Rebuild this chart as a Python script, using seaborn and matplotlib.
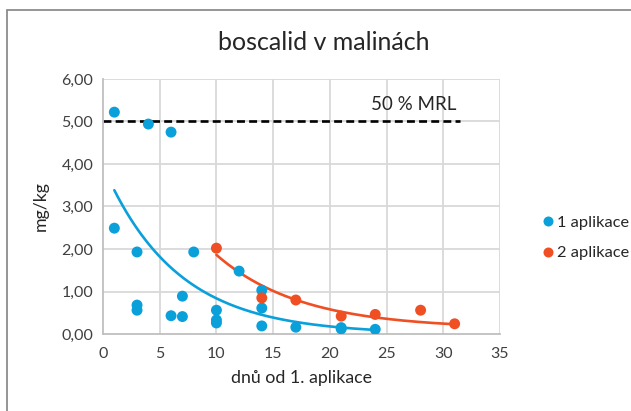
import numpy as np
import pandas as pd
import matplotlib
matplotlib.use("Agg")
import matplotlib.pyplot as plt
from matplotlib.lines import Line2D
from matplotlib.patches import Rectangle
import seaborn as sns

# residues after the first application
days_1 = [1, 4, 6, 1, 3, 3, 3, 6, 7, 7, 8, 10, 10, 10, 12, 14, 14, 14, 17, 21, 21, 24]
res_1 = [5.22, 4.94, 4.75, 2.49, 1.93, 0.68, 0.56, 0.43, 0.89, 0.41, 1.93,
         0.56, 0.33, 0.26, 1.48, 1.03, 0.61, 0.19, 0.16, 0.15, 0.12, 0.11]

# residues after the second application
days_2 = [10, 14, 17, 21, 24, 28, 31]
res_2 = [2.02, 0.85, 0.80, 0.42, 0.46, 0.56, 0.24]

# half of the maximum residue limit
mrl_x = [0, 31.5]
mrl_y = [5.0, 5.0]

# decay trend parameters  y = a * exp(-b * x) + c
trend_1 = dict(a=3.95, b=0.155, c=0.0, start=1, end=24)
trend_2 = dict(a=6.63, b=0.134, c=0.125, start=10, end=31)

series_names = ["1 aplikace", "2 aplikace"]
colors = {"1 aplikace": "#0AA0DA", "2 aplikace": "#F04E23"}

x_ticks = [0, 5, 10, 15, 20, 25, 30, 35]
y_ticks = [0, 1, 2, 3, 4, 5, 6]

sns.set_theme(style="white")
plt.rcParams["font.family"] = ["Lato", "DejaVu Sans"]

df = pd.DataFrame({
    "den": days_1 + days_2,
    "mg/kg": res_1 + res_2,
    "serie": [series_names[0]] * len(days_1) + [series_names[1]] * len(days_2),
})

def trend_frame(p, name):
    xs = np.linspace(p["start"], p["end"], 200)
    ys = p["a"] * np.exp(-p["b"] * xs) + p["c"]
    return pd.DataFrame({"den": xs, "mg/kg": ys, "serie": name})

trends = pd.concat([trend_frame(trend_1, series_names[0]),
                    trend_frame(trend_2, series_names[1])])

fig = plt.figure(figsize=(6.31, 4.11), dpi=100)
ax = fig.add_axes([103 / 631, 1 - 334 / 411, (500 - 103) / 631, (334 - 79) / 411])

grid_c = "#D9D9D9"
for yv in y_ticks[1:]:
    ax.axhline(yv, color=grid_c, lw=1.3, zorder=0)
for xv in x_ticks[1:]:
    ax.axvline(xv, color=grid_c, lw=1.3, zorder=0)

sns.lineplot(data=trends, x="den", y="mg/kg", hue="serie", palette=colors,
             lw=1.9, legend=False, ax=ax, zorder=2)
sns.scatterplot(data=df, x="den", y="mg/kg", hue="serie", palette=colors,
                s=62, edgecolor="none", legend=False, ax=ax, zorder=3)
sns.lineplot(x=mrl_x, y=mrl_y, color="black", lw=1.9, ax=ax, zorder=2)
ax.lines[-1].set_linestyle((0, (3, 1.6)))

ax.text(23.6, 5.39, "50 % MRL", ha="left", va="center", fontsize=13.5, color="#262626")

ax.set_xlim(0, 35)
ax.set_ylim(0, 6)
ax.set_xticks(x_ticks)
ax.set_yticks(y_ticks)
ax.set_yticklabels([f"{v:.2f}".replace(".", ",") for v in y_ticks])
ax.tick_params(axis="both", length=0, labelsize=11.5, labelcolor="#404040", pad=7)
ax.tick_params(axis="x", pad=9)
for side in ["top", "right"]:
    ax.spines[side].set_visible(False)
for side in ["left", "bottom"]:
    ax.spines[side].set_color("#BFBFBF")
    ax.spines[side].set_linewidth(1.3)

ax.set_xlabel("dnů od 1. aplikace", fontsize=12.8, color="#262626", labelpad=7)
ax.set_ylabel("mg/kg", fontsize=12.8, color="#262626", labelpad=9)

fig.text(0.513, 1 - 42 / 411, "boscalid v malinách", ha="center", va="center",
         fontsize=18, color="#262626")

handles = [Line2D([], [], marker="o", ls="none", markersize=7.2, color=colors[n],
                  markeredgewidth=0) for n in series_names]
fig.legend(handles, series_names, loc="center left",
           bbox_to_anchor=(533 / 631, 1 - 238 / 411), frameon=False,
           fontsize=11.8, handletextpad=0.05, labelspacing=0.95, borderaxespad=0,
           handlelength=1.0, labelcolor="#262626")

fig.patches.append(Rectangle((7 / 631, -0.1), 1.2, 1 - 10.5 / 411 + 0.1,
                             transform=fig.transFigure, fill=False,
                             edgecolor="#8C8C8C", lw=1.3))

fig.savefig("out.png", dpi=100)
